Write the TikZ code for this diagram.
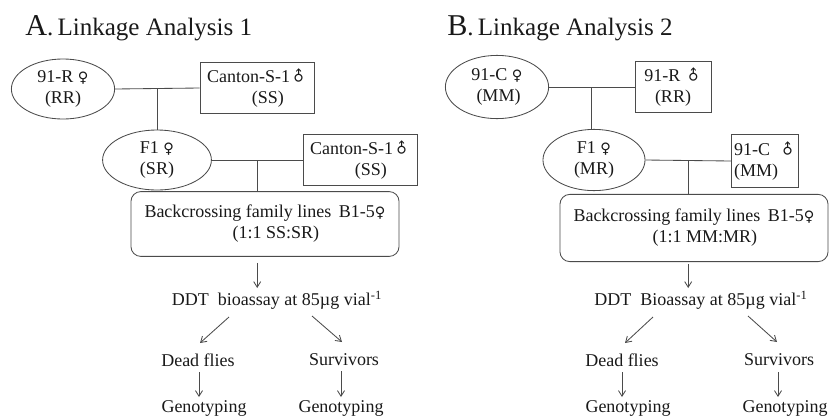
\documentclass[tikz,border=0pt]{standalone}
\usepackage{fontspec}
\setmainfont{Liberation Serif}
\newfontfamily\symfont{DejaVu Sans}[Scale=0.8]
\usepackage{graphicx}
\usepackage{tikz}
\usetikzlibrary{shapes,arrows.meta,positioning,calc}
\usepackage{xcolor}
\definecolor{linegrey}{RGB}{75,75,75}
\definecolor{textgrey}{RGB}{25,25,25}
\newcommand{\fem}{{\symfont ♀}}
\newcommand{\mal}{\raisebox{0.15ex}{\rotatebox[origin=c]{45}{\symfont ♂}}}
\newcommand{\bodyfont}{\fontsize{12.8}{15}\selectfont}

\begin{document}
\begin{tikzpicture}[
    x=0.025cm, y=-0.025cm,
    every node/.style={text=textgrey},
    femnode/.style={draw=linegrey, ellipse, minimum width=2.58cm, minimum height=1.5cm,
                    inner sep=0pt, align=center, font=\bodyfont, line width=0.6pt},
    malbox/.style={draw=linegrey, rectangle, minimum height=1.28cm, inner sep=2pt,
                   align=center, font=\bodyfont, line width=0.6pt},
    bcbox/.style={draw=linegrey, rounded corners=7pt, minimum width=6.7cm,
                  minimum height=1.62cm, align=center, font=\bodyfont, line width=0.6pt},
    lbl/.style={font=\bodyfont, inner sep=1pt},
    ttl/.style={font=\fontsize{17.8}{20}\selectfont, inner sep=0pt},
    lnk/.style={draw=linegrey, line width=0.6pt},
    arr/.style={-{Straight Barb[length=4pt,width=5pt]}, draw=linegrey, line width=0.6pt}
]
    \useasboundingbox (0,0) rectangle (830,416);

    % A. Linkage Analysis 1
    \node[ttl, anchor=base west] (ttlA) at (25,35)
        {{\fontsize{21.5}{24}\selectfont A}.\,Linkage Analysis 1};
    \node[femnode] (p91R) at (63,89) {91-R \fem\\(RR)};
    \node[malbox, minimum width=2.85cm] (cs1) at (257,88) {Canton-S-1\mal\\\hspace*{1.2em}(SS)};
    \node[femnode, minimum width=2.72cm] (f1A) at (157,160) {F1 \fem\\(SR)};
    \node[malbox, minimum width=2.85cm] (cs2) at (360,160) {Canton-S-1\mal\\\hspace*{1.2em}(SS)};
    \node[bcbox] (bcA) at (265,224) {Backcrossing family lines \,B1-5\fem\\\hspace*{1.2em}(1:1 SS:SR)};
    \node[lbl] (ddtA) at (277,300) {DDT\ \ bioassay at 85µg vial\textsuperscript{-1}};
    \node[lbl] (deadA) at (198,360) {Dead flies};
    \node[lbl] (survA) at (344,360) {Survivors};
    \node[lbl] (genA1) at (204,408) {Genotyping};
    \node[lbl] (genA2) at (341,408) {Genotyping};

    \coordinate (mA1) at ($(p91R.east)!0.5!(cs1.west)$);
    \coordinate (mA2) at ($(f1A.east)!0.5!(cs2.west)$);
    \draw[lnk] (p91R.east) -- (cs1.west);
    \draw[lnk] (mA1) -- (mA1 |- f1A.north);
    \draw[lnk] (f1A.east) -- (cs2.west);
    \draw[lnk] (mA2) -- (mA2 |- bcA.north);
    \draw[arr] ($(bcA.south -| mA2)+(0,6)$) -- ($(ddtA.center -| mA2)+(0,-12)$);
    \draw[arr] ([shift={(-48,17)}]ddtA.center) -- ([shift={(2,-17)}]deadA.center);
    \draw[arr] ([shift={(35,16)}]ddtA.center) -- ([shift={(-2,-18)}]survA.center);
    \draw[arr] ([shift={(1,12)}]deadA.center) -- ([shift={(1,37)}]deadA.center);
    \draw[arr] ([shift={(-3,11)}]survA.center) -- ([shift={(-3,37)}]survA.center);

    % B. Linkage Analysis 2
    \node[ttl, anchor=base west] (ttlB) at (447,35)
        {{\fontsize{21.5}{24}\selectfont B}.\,Linkage Analysis 2};
    \node[femnode, minimum height=1.58cm] (p91C) at (497,87) {91-C \fem\\\,(MM)};
    \node[malbox, minimum width=1.9cm] (r91) at (673,87) {91-R \mal\\(RR)};
    \node[femnode, minimum width=2.55cm, minimum height=1.53cm] (f1B) at (594,160) {F1 \fem\\(MR)};
    \node[malbox, minimum width=1.63cm, minimum height=1.33cm, align=left] (c91) at (765,161) {91-C\ \ \mal\\(MM)};
    \node[bcbox, minimum height=1.68cm] (bcB) at (694,228) {Backcrossing family lines \,B1-5\fem\\\hspace*{1.2em}(1:1 MM:MR)};
    \node[lbl] (ddtB) at (701,300) {DDT\ \ Bioassay at 85µg vial\textsuperscript{-1}};
    \node[lbl] (deadB) at (622,360) {Dead flies};
    \node[lbl] (survB) at (779,360) {Survivors};
    \node[lbl] (genB1) at (628,408) {Genotyping};
    \node[lbl] (genB2) at (785,408) {Genotyping};

    \coordinate (mB1) at ($(p91C.east)!0.5!(r91.west)$);
    \coordinate (mB2) at ($(f1B.east)!0.5!(c91.west)$);
    \draw[lnk] (p91C.east) -- (r91.west);
    \draw[lnk] (mB1) -- (mB1 |- f1B.north);
    \draw[lnk] (f1B.east) -- (c91.west);
    \draw[lnk] (mB2) -- (mB2 |- bcB.north);
    \draw[arr] ($(bcB.south -| mB2)+(0,2)$) -- ($(ddtB.center -| mB2)+(0,-12)$);
    \draw[arr] ([shift={(-48,17)}]ddtB.center) -- ([shift={(3,-17)}]deadB.center);
    \draw[arr] ([shift={(47,16)}]ddtB.center) -- ([shift={(-2,-18)}]survB.center);
    \draw[arr] ([shift={(0,12)}]deadB.center) -- ([shift={(0,37)}]deadB.center);
    \draw[arr] ([shift={(-1,12)}]survB.center) -- ([shift={(-1,37)}]survB.center);
\end{tikzpicture}
\end{document}
